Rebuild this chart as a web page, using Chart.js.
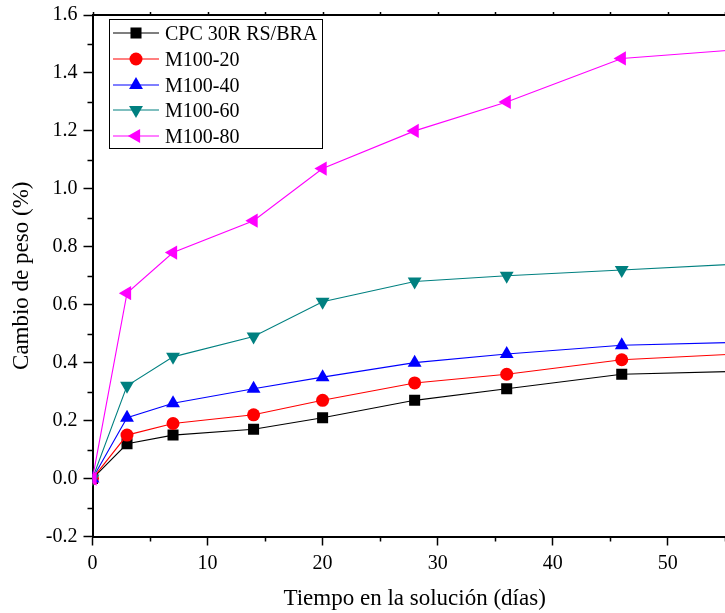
<!DOCTYPE html>
<html><head><meta charset="utf-8">
<script src="https://cdn.jsdelivr.net/npm/chart.js@4.4.0/dist/chart.umd.min.js"></script>
<style>
html,body{margin:0;padding:0;overflow:hidden;background:#fff;width:725px;height:613px}
#wrap{position:relative;width:745px;height:613px}
#legend{position:absolute;left:109px;top:19px;width:212px;height:128px;border:1px solid #000;background:#fff;font-family:"Liberation Serif";font-size:20px;color:#000}
.row{position:absolute;left:3px;height:26px;display:flex;align-items:center;white-space:nowrap}
.row canvas{margin-right:6px}
</style></head>
<body><div id="wrap"><canvas id="c" width="745" height="613"></canvas><div id="legend"></div></div>
<script>
// ---- data ----
const days = [0, 3, 7, 14, 20, 28, 36, 46, 56];
const seriesNames = ['CPC 30R RS/BRA', 'M100-20', 'M100-40', 'M100-60', 'M100-80'];
const cpc30 = [0, 0.12, 0.15, 0.17, 0.21, 0.27, 0.31, 0.36, 0.37];
const m100_20 = [0, 0.15, 0.19, 0.22, 0.27, 0.33, 0.36, 0.41, 0.43];
const m100_40 = [0, 0.21, 0.26, 0.31, 0.35, 0.40, 0.43, 0.46, 0.47];
const m100_60 = [0, 0.32, 0.42, 0.49, 0.61, 0.68, 0.70, 0.72, 0.74];
const m100_80 = [0, 0.64, 0.78, 0.89, 1.07, 1.20, 1.30, 1.45, 1.48];
const xTickLabels = ['0', '10', '20', '30', '40', '50'];
const yTickLabels = ['-0.2', '0.0', '0.2', '0.4', '0.6', '0.8', '1.0', '1.2', '1.4', '1.6'];
const xTitle = 'Tiempo en la solución (días)';
const yTitle = 'Cambio de peso (%)';

// ---- styles ----
const styles = [
  {color: '#000000', pointStyle: 'rect', rotation: 0, radius: 7.8},
  {color: '#FF0000', pointStyle: 'circle', rotation: 0, radius: 6.5},
  {color: '#0000FF', pointStyle: 'triangle', rotation: 0, radius: 8},
  {color: '#008080', pointStyle: 'triangle', rotation: 180, radius: 8},
  {color: '#FF00FF', pointStyle: 'triangle', rotation: 270, radius: 8.2}
];
const seriesValues = [cpc30, m100_20, m100_40, m100_60, m100_80];
const FONT = 'Liberation Serif';
Chart.defaults.font.family = FONT;
Chart.defaults.color = '#000';

const datasets = seriesValues.map((vals, i) => ({
  label: seriesNames[i],
  data: days.map((d, k) => ({x: d, y: vals[k]})),
  borderColor: styles[i].color,
  backgroundColor: styles[i].color,
  pointBackgroundColor: styles[i].color,
  pointBorderColor: styles[i].color,
  pointBorderWidth: 0,
  borderWidth: 1.1,
  pointStyle: styles[i].pointStyle,
  rotation: styles[i].rotation,
  pointRadius: styles[i].radius,
  tension: 0,
  order: 5 - i
}));

const isMajorX = v => xTickLabels.includes(String(Math.round(v)));
const yLabelOf = v => { const s = (Math.round(v * 10) / 10).toFixed(1); return yTickLabels.includes(s) ? s : ''; };

const deco = {
  id: 'deco',
  afterDraw(chart) {
    const {ctx, chartArea: a, scales: {x, y}} = chart;
    ctx.save();
    ctx.strokeStyle = '#000';
    ctx.lineWidth = 1.5;
    ctx.beginPath();
    x.ticks.forEach(t => {
      const px = Math.round(x.getPixelForValue(t.value)) + 0.5;
      if (!isMajorX(t.value)) { ctx.moveTo(px, a.bottom); ctx.lineTo(px, a.bottom + 5); }
      ctx.moveTo(px, a.top); ctx.lineTo(px, a.top - 3);
    });
    y.ticks.forEach(t => {
      const py = Math.round(y.getPixelForValue(t.value)) + 0.5;
      if (yLabelOf(t.value) === '') { ctx.moveTo(a.left, py); ctx.lineTo(a.left - 5, py); }
    });
    ctx.stroke();
    ctx.lineWidth = 2;
    ctx.beginPath();
    ctx.moveTo(a.left, a.top); ctx.lineTo(a.right, a.top); ctx.lineTo(a.right, a.bottom);
    ctx.stroke();
    ctx.restore();
  }
};

new Chart(document.getElementById('c'), {
  type: 'line',
  data: {datasets},
  plugins: [deco],
  options: {
    responsive: false,
    animation: false,
    devicePixelRatio: 1,
    layout: {padding: {top: 15, right: 3.5, left: 0, bottom: 0}},
    plugins: {legend: {display: false}, tooltip: {enabled: false}},
    scales: {
      x: {
        type: 'linear', min: 0, max: 56,
        ticks: {stepSize: 5, includeBounds: false, autoSkip: false, maxRotation: 0, padding: 6,
          font: {size: 20, family: FONT},
          callback: v => isMajorX(v) ? String(Math.round(v)) : ''},
        grid: {drawOnChartArea: false, drawTicks: true, tickLength: 9, tickWidth: 1.5,
          tickColor: c => (c.tick && isMajorX(c.tick.value)) ? '#000' : 'rgba(0,0,0,0)'},
        border: {display: true, color: '#000', width: 2},
        title: {display: true, text: xTitle, font: {size: 23, family: FONT}, padding: {top: 0, bottom: 0}},
        afterFit: s => { s.height = 76.5; s.paddingLeft = 0; s.paddingRight = 0; }
      },
      y: {
        type: 'linear', min: -0.2, max: 1.6,
        ticks: {stepSize: 0.1, autoSkip: false, padding: 6, font: {size: 20, family: FONT},
          callback: v => yLabelOf(v)},
        grid: {drawOnChartArea: false, drawTicks: true, tickLength: 9, tickWidth: 1.5,
          tickColor: c => (c.tick && yLabelOf(c.tick.value) !== '') ? '#000' : 'rgba(0,0,0,0)'},
        border: {display: true, color: '#000', width: 2},
        title: {display: true, text: yTitle, font: {size: 23, family: FONT}, padding: {top: 8, bottom: 0}},
        afterFit: s => { s.width = 92.5; s.paddingTop = 0; s.paddingBottom = 0; }
      }
    }
  }
});

// ---- legend ----
const legend = document.getElementById('legend');
const rowTops = [0, 26, 52, 77, 103];
seriesNames.forEach((name, i) => {
  const row = document.createElement('div');
  row.className = 'row';
  row.style.top = rowTops[i] + 'px';
  const cv = document.createElement('canvas');
  cv.width = 46; cv.height = 26;
  const g = cv.getContext('2d');
  const st = styles[i];
  g.strokeStyle = st.color; g.lineWidth = 1.1;
  g.beginPath(); g.moveTo(0, 13); g.lineTo(46, 13); g.stroke();
  g.fillStyle = st.color;
  const cx = 23, cy = 13, r = st.radius;
  g.beginPath();
  if (st.pointStyle === 'rect') {
    const s = Math.SQRT1_2 * r; g.rect(cx - s, cy - s, 2 * s, 2 * s);
  } else if (st.pointStyle === 'circle') {
    g.arc(cx, cy, r, 0, Math.PI * 2);
  } else {
    let rad = st.rotation * Math.PI / 180;
    for (let k = 0; k < 3; k++) {
      const px = cx + Math.sin(rad) * r, py = cy - Math.cos(rad) * r;
      k === 0 ? g.moveTo(px, py) : g.lineTo(px, py);
      rad += 2 * Math.PI / 3;
    }
    g.closePath();
  }
  g.fill();
  const span = document.createElement('span');
  span.textContent = name;
  row.appendChild(cv); row.appendChild(span);
  legend.appendChild(row);
});
</script>
</body></html>
